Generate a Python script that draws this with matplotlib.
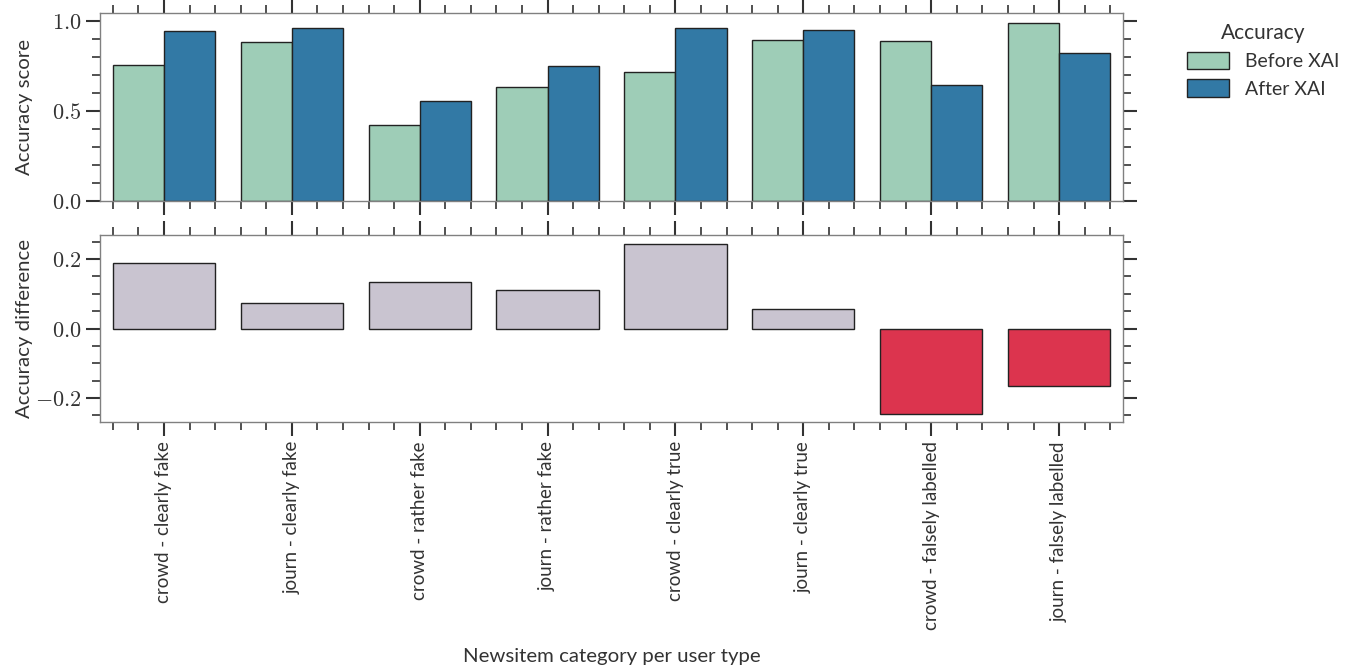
import matplotlib
matplotlib.use("Agg")
from matplotlib import pyplot as plt
from matplotlib.ticker import MultipleLocator, FuncFormatter
import numpy as np

plt.rcParams['font.family'] = ['Lato', 'DejaVu Sans']
plt.rcParams['mathtext.fontset'] = 'cm'
plt.rcParams['text.color'] = '#333333'
plt.rcParams['axes.labelcolor'] = '#333333'

categories = ['crowd - clearly fake', 'journ - clearly fake',
              'crowd - rather fake', 'journ - rather fake',
              'crowd - clearly true', 'journ - clearly true',
              'crowd - falsely labelled', 'journ - falsely labelled']
before_xai = [0.755, 0.882, 0.421, 0.634, 0.716, 0.894, 0.887, 0.987]
after_xai = [0.944, 0.956, 0.556, 0.745, 0.958, 0.949, 0.641, 0.821]

diff = np.array(after_xai) - np.array(before_xai)
x = np.arange(len(categories))

c_before = '#9ecdb7'
c_after = '#3279a5'
c_pos = '#c9c4d0'
c_neg = '#dc344e'
edge = '#222222'

fig = plt.figure(figsize=(13.48, 6.65), dpi=100)
ax1 = fig.add_axes([0.0742, 0.698, 0.7589, 0.282])
ax2 = fig.add_axes([0.0742, 0.365, 0.7589, 0.282])

ax1.bar(x - 0.2, before_xai, width=0.4, color=c_before, edgecolor=edge, linewidth=1, label='Before XAI')
ax1.bar(x + 0.2, after_xai, width=0.4, color=c_after, edgecolor=edge, linewidth=1, label='After XAI')

colors = [c_pos if d >= 0 else c_neg for d in diff]
ax2.bar(x, diff, width=0.8, color=colors, edgecolor=edge, linewidth=1)

ax1.set_ylim(0, 1.04)
ax2.set_ylim(-0.27, 0.27)
ax1.yaxis.set_major_locator(MultipleLocator(0.5))
ax1.yaxis.set_minor_locator(MultipleLocator(0.1))
ax2.yaxis.set_major_locator(MultipleLocator(0.2))
ax2.yaxis.set_minor_locator(MultipleLocator(0.05))

fmt = FuncFormatter(lambda v, p: '$%.1f$' % (0.0 if abs(v) < 1e-9 else v))
for ax in (ax1, ax2):
    ax.set_xlim(-0.5, 7.5)
    ax.set_xticks(x)
    ax.set_xticks(np.concatenate([x + d for d in (-0.4, -0.2, 0.2, 0.4)]), minor=True)
    ax.yaxis.set_major_formatter(fmt)
    ax.tick_params(which='both', direction='out', top=True, right=True, bottom=True, left=True,
                   color='#333333', labelcolor='#333333')
    ax.tick_params(which='major', length=10, width=1.5, labelsize=16)
    ax.tick_params(which='minor', length=6, width=1.2)
    for s in ax.spines.values():
        s.set_color('#808080')
        s.set_linewidth(1.0)

ax1.set_xticklabels([])
ax2.set_xticklabels(categories, rotation=90, fontsize=13.5)

ax1.set_ylabel('Accuracy score', fontsize=14.7)
ax2.set_ylabel('Accuracy difference', fontsize=14.7)
ax1.yaxis.set_label_coords(-0.066, 0.5)
ax2.yaxis.set_label_coords(-0.066, 0.5)
ax2.set_xlabel('Newsitem category per user type', fontsize=14.7)
ax2.xaxis.set_label_coords(0.5, -1.205)

leg = ax1.legend(title='Accuracy', loc='upper left', bbox_to_anchor=(1.045, 1.04),
                 frameon=False, fontsize=14, title_fontsize=15,
                 handlelength=2.2, handleheight=1.0, labelspacing=0.45)

fig.savefig('out.png', dpi=100)
